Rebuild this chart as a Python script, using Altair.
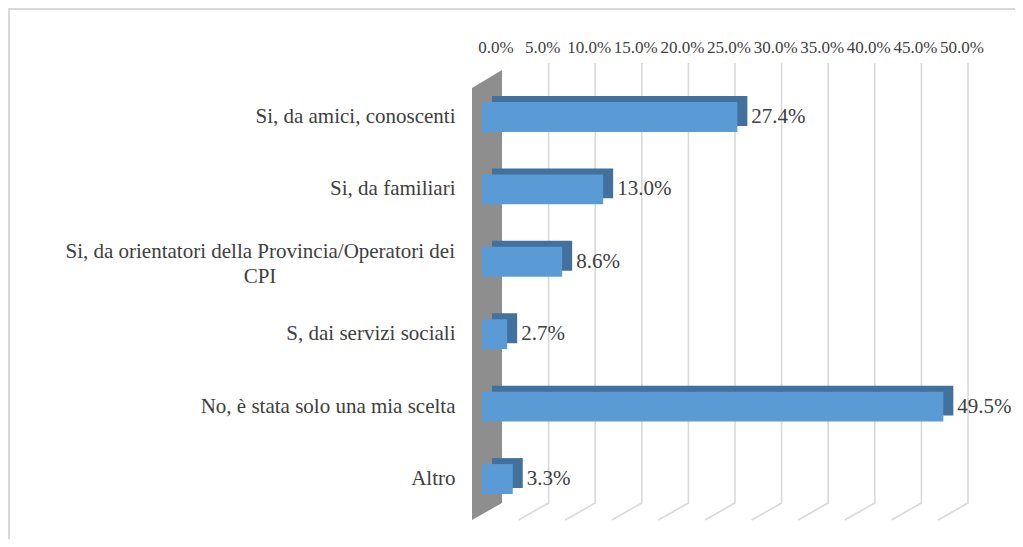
import altair as alt
import pandas as pd

# ---- data ----
categories = [
    "Si, da amici, conoscenti",
    "Si, da familiari",
    "Si, da orientatori della Provincia/Operatori dei CPI",
    "S, dai servizi sociali",
    "No, è stata solo una mia scelta",
    "Altro",
]
values = [27.4, 13.0, 8.6, 2.7, 49.5, 3.3]
tick_values = [0, 5, 10, 15, 20, 25, 30, 35, 40, 45, 50]
tick_labels = ["0.0%", "5.0%", "10.0%", "15.0%", "20.0%", "25.0%",
               "30.0%", "35.0%", "40.0%", "45.0%", "50.0%"]

# ---- style constants ----
W, H = 466, 432
FONT = "Liberation Serif"
FS = 21
TICK_FS = 17
TXT = "#404040"
FRONT = "#5B9BD5"
DARK = "#41719C"
GRID = "#D9D9D9"
WALL = "#8E8E8E"
PX = W / 50.0          # pixels per percent
BACK = 20 / PX         # depth offset of back plane (in % units)
FRONTP = -10 / PX      # depth offset of front plane (in % units)

xscale = alt.Scale(domain=[0, 50], nice=False, zero=False)
pyscale = alt.Scale(domain=[0, H], reverse=True, nice=False, zero=False)

df = pd.DataFrame({"cat": categories, "v": values})

# gridlines of the 3D box (back wall + floor stub)
grid_rows = []
for t in tick_values[1:]:
    grid_rows.append({"t": t, "o": 0, "gx": t + BACK, "gy": -19})
    grid_rows.append({"t": t, "o": 1, "gx": t + BACK, "gy": 421})
    grid_rows.append({"t": t, "o": 2, "gx": t + FRONTP, "gy": 438})
grid_df = pd.DataFrame(grid_rows)

wall_df = pd.DataFrame({"wx": [FRONTP, BACK], "wy": [6, -12], "wy2": [438, 421]})

grid = alt.Chart(grid_df).mark_line(color=GRID, strokeWidth=1.6).encode(
    x=alt.X("gx:Q", scale=xscale, axis=None),
    y=alt.Y("gy:Q", scale=pyscale, axis=None),
    detail="t:N",
    order="o:Q",
)
wall = alt.Chart(wall_df).mark_area(color=WALL, orient="vertical", opacity=1).encode(
    x=alt.X("wx:Q", scale=xscale, axis=None),
    y=alt.Y("wy:Q", scale=pyscale, axis=None),
    y2="wy2:Q",
)
border = alt.Chart(pd.DataFrame({"a": [0]})).mark_rect(
    filled=False, stroke=GRID, strokeWidth=2
).encode(
    x=alt.value(-473), x2=alt.value(W + 200),
    y=alt.value(-73), y2=alt.value(H + 200),
)
decor = alt.layer(border, grid, wall)

cpi_label = "Si, da orientatori della Provincia/Operatori dei CPI"
cpi_first = "Si, da orientatori della Provincia/Operatori dei"
label_expr = f"datum.value == '{cpi_label}' ? '' : datum.value"

yband = alt.Scale(paddingInner=0.587, paddingOuter=0.276)
yaxis = alt.Axis(title=None, orient="left", domain=False, ticks=False, grid=False,
                 labelFont=FONT, labelFontSize=FS, labelColor=TXT, labelPadding=27,
                 labelLimit=0, labelExpr=label_expr)
yenc = alt.Y("cat:N", sort=categories, scale=yband, axis=yaxis)

base = alt.Chart(df)
back = base.mark_bar(color=DARK, xOffset=10, x2Offset=10, yOffset=-6, y2Offset=-6).encode(
    x=alt.X("v:Q", scale=xscale, axis=None),
    y=yenc,
)
front = base.mark_bar(color=FRONT).encode(
    x=alt.X("v:Q", scale=xscale, axis=None),
    y=yenc,
)
vlabels = base.transform_calculate(
    lab="format(datum.v, '.1f') + '%'"
).mark_text(align="left", baseline="middle", dx=14, font=FONT, fontSize=FS, color=TXT).encode(
    x=alt.X("v:Q", scale=xscale, axis=None),
    y=yenc,
    text="lab:N",
)
# the wrapped category label: two lines, the second centred under the first
cpi_base = base.transform_filter(alt.datum.cat == cpi_label)
cpi_line1 = cpi_base.transform_calculate(l1=f"'{cpi_first}'").mark_text(
    align="right", baseline="middle", dy=-10, font=FONT, fontSize=FS, color=TXT
).encode(
    x=alt.value(-27),
    y=yenc,
    text="l1:N",
)
cpi_line2 = cpi_base.transform_calculate(l2="'CPI'").mark_text(
    align="center", baseline="middle", dy=15, font=FONT, fontSize=FS, color=TXT
).encode(
    x=alt.value(-222),
    y=yenc,
    text="l2:N",
)

ticks_df = pd.DataFrame({"t": tick_values, "lab": tick_labels})
ticklabels = alt.Chart(ticks_df).mark_text(
    align="center", baseline="middle", xOffset=14, font=FONT, fontSize=TICK_FS, color=TXT
).encode(
    x=alt.X("t:Q", scale=xscale, axis=None),
    y=alt.value(-34),
    text="lab:N",
)

bars = alt.layer(back, front, vlabels, cpi_line1, cpi_line2, ticklabels)

chart = alt.layer(decor, bars).resolve_scale(y="independent").properties(
    width=W, height=H,
    autosize=alt.AutoSizeParams(type="none"),
    padding={"left": 474, "top": 74, "right": 67, "bottom": 25},
).configure_view(stroke=None)

chart.save("out.html", embed_options={"renderer": "svg", "actions": False})
